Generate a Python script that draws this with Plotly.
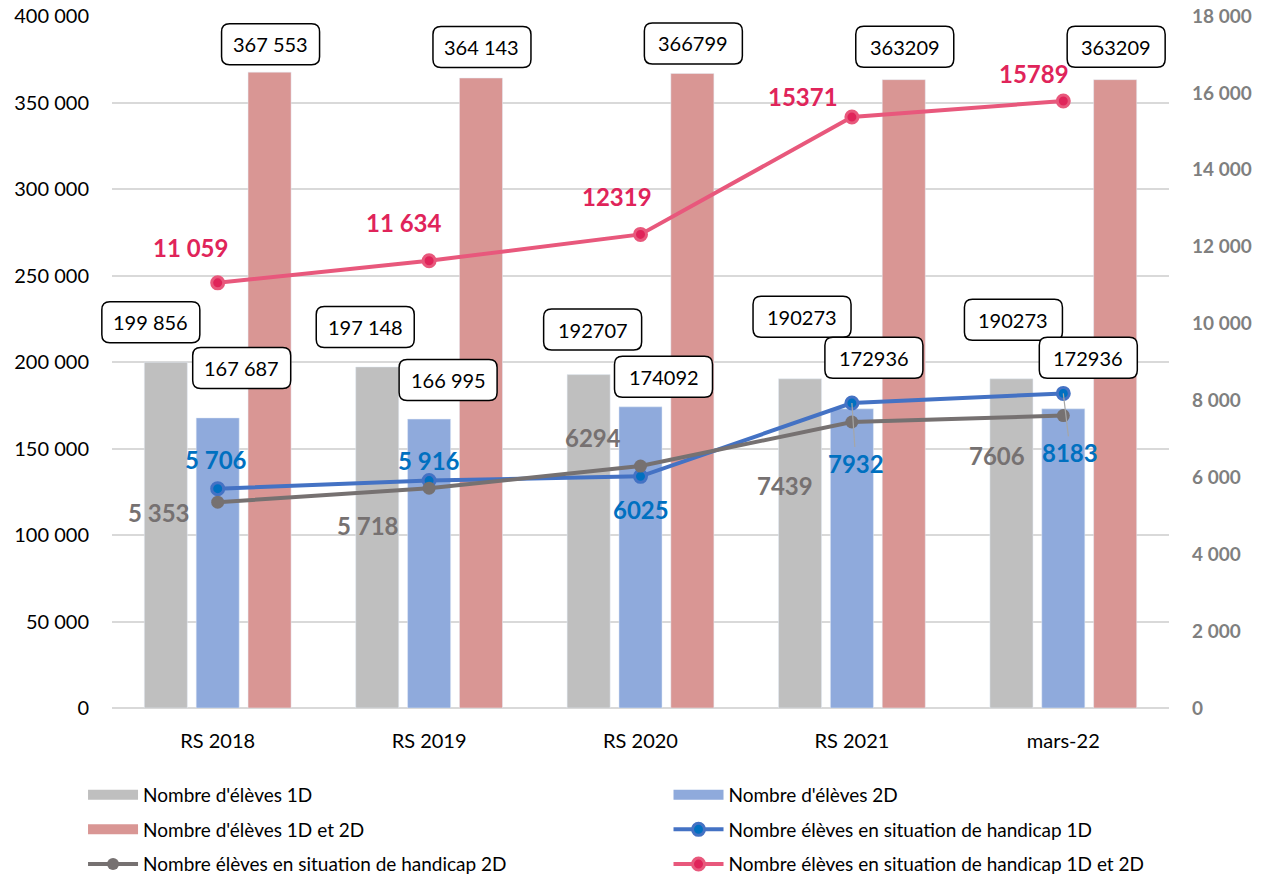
import plotly.graph_objects as go

# ---------------- data ----------------
categories = ["RS 2018", "RS 2019", "RS 2020", "RS 2021", "mars-22"]

eleves_1d = [199856, 197148, 192707, 190273, 190273]
eleves_2d = [167687, 166995, 174092, 172936, 172936]
eleves_1d_2d = [367553, 364143, 366799, 363209, 363209]

handicap_1d = [5706, 5916, 6025, 7932, 8183]
handicap_2d = [5353, 5718, 6294, 7439, 7606]
handicap_1d_2d = [11059, 11634, 12319, 15371, 15789]

# label texts as displayed in the source
lbl_1d = ["199 856", "197 148", "192707", "190273", "190273"]
lbl_2d = ["167 687", "166 995", "174092", "172936", "172936"]
lbl_1d_2d = ["367 553", "364 143", "366799", "363209", "363209"]
lbl_h1d = ["5 706", "5 916", "6025", "7932", "8183"]
lbl_h2d = ["5 353", "5 718", "6294", "7439", "7606"]
lbl_h1d_2d = ["11 059", "11 634", "12319", "15371", "15789"]

names = [
    "Nombre d'élèves 1D",
    "Nombre d'élèves 2D",
    "Nombre d'élèves 1D et 2D",
    "Nombre élèves en situation de handicap 1D",
    "Nombre élèves en situation de handicap 2D",
    "Nombre élèves en situation de handicap 1D et 2D",
]

Y1_MAX = 400000
Y2_MAX = 18000

# ---------------- style ----------------
FONT = "Lato"
C_GRAY_BAR = "#BFBFBF"
C_BLUE_BAR = "#8FAADC"
C_RED_BAR = "#D99694"
C_BLUE_LINE = "#4472C4"
C_BLUE_MARK = "#0070C0"
C_GRAY_LINE = "#767171"
C_PINK_LINE = "#E8587C"
C_PINK_MARK = "#E0245A"
C_PINK_TXT = "#E0245A"
GRID = "#D9D9D9"
BARGAP = 0.264
BARGROUPGAP = 0.17
SLOT = (1 - BARGAP) / 3
NCAT = len(categories)
BOX_W, BOX_H, BOX_R = 98, 41, 8

# label offsets in pixels (dx right, dy down) relative to bar top / point
off_1d = [(-15, -40), (-12, -40), (4, -45), (2, -62), (2, -59)]
off_2d = [(24, -50), (19, -39), (23, -30), (22, -51), (25, -51)]
off_12 = [(1, -28), (1, -31), (1, -30), (1, -33), (1, -33)]
off_h1d = [(-2, -29), (0, -20), (0, 33), (4, 60), (7, 59)]
lead_h1d = [False, False, False, True, True]
off_h2d = [(-59, 10), (-61, 37), (-48, -29), (-67, 63), (-66, 40)]
off_h12 = [(-27, -35), (-25, -38), (-24, -38), (-49, -21), (-29, -28)]

fig = go.Figure()

bar_colors = [C_GRAY_BAR, C_BLUE_BAR, C_RED_BAR]
bar_values = [eleves_1d, eleves_2d, eleves_1d_2d]
for vals, col in zip(bar_values, bar_colors):
    fig.add_trace(go.Bar(x=categories, y=vals, marker_color=col, showlegend=False))

fig.add_trace(go.Scatter(
    x=categories, y=handicap_1d, yaxis="y2", mode="lines+markers", showlegend=False,
    line=dict(color=C_BLUE_LINE, width=4),
    marker=dict(size=12, color=C_BLUE_MARK, line=dict(color=C_BLUE_LINE, width=3)),
))
fig.add_trace(go.Scatter(
    x=categories, y=handicap_2d, yaxis="y2", mode="lines+markers", showlegend=False,
    line=dict(color=C_GRAY_LINE, width=4),
    marker=dict(size=13, color=C_GRAY_LINE),
))
fig.add_trace(go.Scatter(
    x=categories, y=handicap_1d_2d, yaxis="y2", mode="lines+markers", showlegend=False,
    line=dict(color=C_PINK_LINE, width=4),
    marker=dict(size=12, color=C_PINK_MARK, line=dict(color=C_PINK_LINE, width=3)),
))

# legend entries (Excel-like, two columns)
legend_of = ["legend", "legend2", "legend", "legend2", "legend", "legend2"]
for j, nm in enumerate(names):
    if j < 3:
        kw = dict(mode="lines", line=dict(color=bar_colors[j], width=14))
    else:
        sty = {3: (C_BLUE_LINE, C_BLUE_MARK, 3), 4: (C_GRAY_LINE, C_GRAY_LINE, 0),
               5: (C_PINK_LINE, C_PINK_MARK, 3)}[j]
        kw = dict(mode="lines+markers", line=dict(color=sty[0], width=4),
                  marker=dict(size=12, color=sty[1], line=dict(color=sty[0], width=sty[2])))
    fig.add_trace(go.Scatter(x=[None], y=[None], name=nm, legend=legend_of[j],
                             legendgroup="g%d" % j, yaxis="y2", **kw))

annotations = []
shapes = []


def xpaper(idx):
    return (idx + 0.5) / NCAT


def rrect_path(cx, cy, w, h, r):
    x0, x1, y0, y1 = cx - w / 2, cx + w / 2, cy - h / 2, cy + h / 2
    return (f"M{x0 + r},{y0} L{x1 - r},{y0} Q{x1},{y0} {x1},{y0 + r} "
            f"L{x1},{y1 - r} Q{x1},{y1} {x1 - r},{y1} L{x0 + r},{y1} "
            f"Q{x0},{y1} {x0},{y1 - r} L{x0},{y0 + r} Q{x0},{y0} {x0 + r},{y0} Z")


def box_labels(values, texts, offs, k):
    for i, (v, t, (dx, dy)) in enumerate(zip(values, texts, offs)):
        xa = xpaper(i + k * SLOT)
        ya = v / Y1_MAX
        shapes.append(dict(
            type="path", xref="paper", yref="paper", xsizemode="pixel", ysizemode="pixel",
            xanchor=xa, yanchor=ya, path=rrect_path(dx, -dy, BOX_W, BOX_H, BOX_R),
            fillcolor="#FFFFFF", line=dict(color="#000000", width=1.5), layer="above",
        ))
        annotations.append(dict(
            x=xa, y=ya, xref="paper", yref="paper", text=t, showarrow=False,
            xshift=dx, yshift=-dy, font=dict(family=FONT, size=20, color="#000000"),
            xanchor="center", yanchor="middle",
        ))


def line_labels(values, texts, offs, color, leads=None):
    for i, (v, t, (dx, dy)) in enumerate(zip(values, texts, offs)):
        lead = leads[i] if leads else False
        a = dict(
            x=i, y=v, xref="x", yref="y2", text="<b>%s</b>" % t,
            font=dict(family=FONT, size=24, color=color),
            xanchor="center", yanchor="middle",
        )
        if lead:
            a.update(showarrow=True, ax=dx, ay=dy, arrowhead=0, arrowwidth=1.2,
                     arrowcolor="#A6A6A6", standoff=0)
        else:
            a.update(showarrow=False, xshift=dx, yshift=-dy)
        annotations.append(a)


box_labels(eleves_1d, lbl_1d, off_1d, -1)
box_labels(eleves_2d, lbl_2d, off_2d, 0)
box_labels(eleves_1d_2d, lbl_1d_2d, off_12, 1)
line_labels(handicap_1d_2d, lbl_h1d_2d, off_h12, C_PINK_TXT)
line_labels(handicap_1d, lbl_h1d, off_h1d, C_BLUE_MARK, lead_h1d)
line_labels(handicap_2d, lbl_h2d, off_h2d, C_GRAY_LINE)

legend_common = dict(orientation="v", yanchor="top", y=-0.098, xanchor="left",
                     font=dict(family=FONT, size=19, color="#000000"),
                     tracegroupgap=7, itemwidth=50, bgcolor="rgba(0,0,0,0)")

fig.update_layout(
    width=1262, height=876,
    margin=dict(l=112, r=93, t=16, b=168, autoexpand=False),
    paper_bgcolor="#FFFFFF", plot_bgcolor="#FFFFFF",
    font=dict(family=FONT, size=20, color="#000000"),
    separators=", ",
    barmode="group", bargap=BARGAP, bargroupgap=BARGROUPGAP,
    xaxis=dict(type="category", showgrid=False, showline=False, ticks="",
               tickfont=dict(family=FONT, size=20, color="#000000"),
               ticklabelstandoff=19, range=[-0.5, NCAT - 0.5]),
    yaxis=dict(range=[0, Y1_MAX], dtick=50000, tickformat=",d", gridcolor=GRID,
               gridwidth=1.5, zeroline=True, zerolinecolor=GRID, zerolinewidth=1.5,
               showline=False, ticks="", ticklabelstandoff=22,
               tickfont=dict(family=FONT, size=20, color="#000000")),
    yaxis2=dict(range=[0, Y2_MAX], dtick=2000, tickformat=",d", overlaying="y",
                side="right", showgrid=False, zeroline=False, showline=False, ticks="",
                ticklabelstandoff=22,
                tickfont=dict(family=FONT, size=19, color="#7F7F7F", weight="bold")),
    legend=dict(x=-0.0274, **legend_common),
    legend2=dict(x=0.5265, **legend_common),
    annotations=annotations,
    shapes=shapes,
    showlegend=True,
    hovermode=False,
)

fig.write_html("out.html", config={"displayModeBar": False},
               post_script="document.body.style.margin='0';document.body.style.overflow='hidden';")
